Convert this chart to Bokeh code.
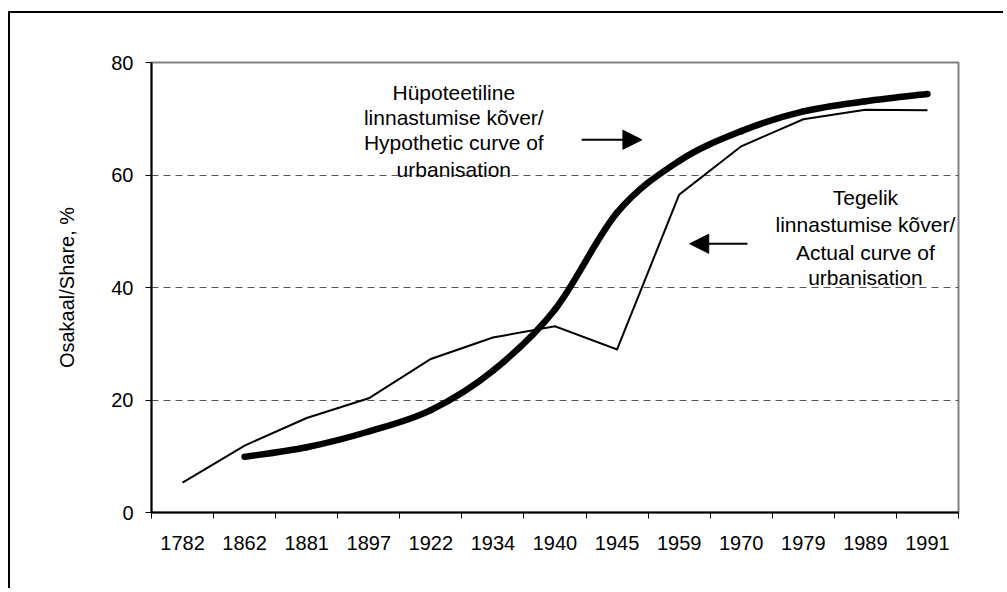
import math
from bokeh.plotting import figure
from bokeh.models import Range1d, FixedTicker, Label, Arrow, NormalHead, ColumnDataSource
from bokeh.embed import file_html
from bokeh.resources import INLINE

# ---- data ----
categories = ["1782", "1862", "1881", "1897", "1922", "1934", "1940",
              "1945", "1959", "1970", "1979", "1989", "1991"]
actual = [5.3, 11.9, 16.8, 20.3, 27.3, 31.1, 33.1, 29.0, 56.5, 65.1, 69.9, 71.6, 71.5]
hypothetic = [float("nan"), 9.9, 11.6, 14.4, 18.2, 25.2, 36.1, 53.3, 62.5, 67.8, 71.3, 73.1, 74.4]
y_ticks = [0, 20, 40, 60, 80]

label_hyp = ["Hüpoteetiline", "linnastumise kõver/", "Hypothetic curve of", "urbanisation"]
label_act = ["Tegelik", "linnastumise kõver/", "Actual curve of", "urbanisation"]
y_title = "Osakaal/Share, %"

FONT = "Liberation Sans"

xs = [i + 0.5 for i in range(len(categories))]

p = figure(frame_width=807, frame_height=450, output_backend="svg", toolbar_location=None,
           x_range=Range1d(0, len(categories)), y_range=Range1d(0, 80),
           min_border_left=141, min_border_right=45, min_border_top=49, min_border_bottom=76)
p.styles = {"border-left": "2px solid #000000", "border-top": "2px solid #000000",
            "margin-top": "11px", "margin-left": "8px"}
p.background_fill_color = "white"
p.border_fill_color = "white"
p.outline_line_color = "#808080"
p.outline_line_width = 2

# grid
p.xgrid.visible = False
p.ygrid.ticker = FixedTicker(ticks=[20, 40, 60])
p.ygrid.grid_line_color = "#555555"
p.ygrid.grid_line_dash = "7 5"
p.ygrid.grid_line_width = 1

# x axis
p.xaxis.ticker = FixedTicker(ticks=xs, minor_ticks=list(range(len(categories) + 1)))
p.xaxis.major_label_overrides = {x: c for x, c in zip(xs, categories)}
p.xaxis.major_tick_out = 0
p.xaxis.major_tick_in = 0
p.xaxis.minor_tick_out = 6
p.xaxis.minor_tick_in = 0
p.xaxis.minor_tick_line_color = "black"
p.xaxis.minor_tick_line_width = 1
p.xaxis.axis_line_color = "black"
p.xaxis.axis_line_width = 2
p.xaxis.major_label_standoff = 17
p.xaxis.major_label_text_font = FONT
p.xaxis.major_label_text_font_size = "20px"
p.xaxis.major_label_text_color = "black"

# y axis
p.yaxis.ticker = FixedTicker(ticks=y_ticks)
p.yaxis.major_tick_out = 6
p.yaxis.major_tick_in = 0
p.yaxis.minor_tick_line_color = None
p.yaxis.major_tick_line_color = "black"
p.yaxis.axis_line_color = "black"
p.yaxis.axis_line_width = 2
p.yaxis.major_label_standoff = 12
p.yaxis.major_label_text_font = FONT
p.yaxis.major_label_text_font_size = "20px"
p.yaxis.major_label_text_color = "black"
p.yaxis.axis_label = y_title
p.yaxis.axis_label_text_font = FONT
p.yaxis.axis_label_text_font_size = "20px"
p.yaxis.axis_label_text_font_style = "normal"
p.yaxis.axis_label_text_color = "black"
p.yaxis.axis_label_standoff = 30

# actual curve (thin, straight segments)
p.line(xs, actual, line_width=2, line_color="black", line_join="miter")

# hypothetic curve (thick, smoothed like a spreadsheet smoothed line)
pts = [(x, y) for x, y in zip(xs, hypothetic)]
def valid(i):
    return 0 <= i < len(pts) and not math.isnan(pts[i][1])
seg = dict(x0=[], y0=[], x1=[], y1=[], cx0=[], cy0=[], cx1=[], cy1=[])
for i in range(len(pts) - 1):
    if not (valid(i) and valid(i + 1)):
        continue
    pa = pts[i - 1] if valid(i - 1) else pts[i]
    pb, pc = pts[i], pts[i + 1]
    pd = pts[i + 2] if valid(i + 2) else pts[i + 1]
    seg["x0"].append(pb[0]); seg["y0"].append(pb[1])
    seg["x1"].append(pc[0]); seg["y1"].append(pc[1])
    seg["cx0"].append(pb[0] + (pc[0] - pa[0]) / 6.0)
    seg["cy0"].append(pb[1] + (pc[1] - pa[1]) / 6.0)
    seg["cx1"].append(pc[0] - (pd[0] - pb[0]) / 6.0)
    seg["cy1"].append(pc[1] - (pd[1] - pb[1]) / 6.0)
p.bezier(x0="x0", y0="y0", x1="x1", y1="y1", cx0="cx0", cy0="cy0", cx1="cx1", cy1="cy1",
         source=ColumnDataSource(seg), line_width=6.5, line_color="black", line_cap="round")

# annotations
for txt, yy in zip(label_hyp, [74.7, 70.2, 65.8, 61.05]):
    p.add_layout(Label(x=4.87, y=yy, text=txt, text_align="center", text_baseline="alphabetic",
                       text_font=FONT, text_font_size="21px", text_color="black"))
for txt, yy in zip(label_act, [55.95, 51.2, 46.3, 41.8]):
    p.add_layout(Label(x=11.5, y=yy, text=txt, text_align="center", text_baseline="alphabetic",
                       text_font=FONT, text_font_size="21px", text_color="black"))

p.add_layout(Arrow(end=NormalHead(size=19, fill_color="black", line_color="black"),
                   x_start=6.93, y_start=66.26, x_end=7.90, y_end=66.26,
                   line_width=2, line_color="black"))
p.add_layout(Arrow(end=NormalHead(size=19, fill_color="black", line_color="black"),
                   x_start=9.60, y_start=47.77, x_end=8.67, y_end=47.77,
                   line_width=2, line_color="black"))

open("out.html", "w").write(file_html(p, INLINE))
